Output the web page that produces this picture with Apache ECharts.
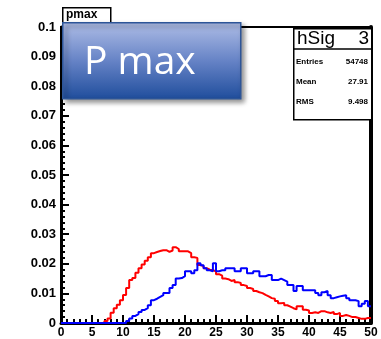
<!DOCTYPE html>
<html>
<head>
<meta charset="utf-8">
<script src="https://cdn.jsdelivr.net/npm/echarts@6/dist/echarts.min.js"></script>
<style>
  html, body { margin: 0; padding: 0; background: #fff; }
  #chart { width: 381px; height: 339px; }
</style>
</head>
<body>
<div id="chart"></div>
<script>
// histogram binning
const xMin = 0, xMax = 50, binWidth = 0.5;
const yMin = 0, yMax = 0.1;

// red histogram (100 bins of 0.5)
const redValues = [
  0,0,0,0,0,0,0,0,0,0, 0,0,0,0,0.0007,0.0015,0.0035,0.005,0.0062,0.0077,
  0.0095,0.0118,0.0145,0.0152,0.017,0.0185,0.0198,0.021,0.0222,0.0236,
  0.024,0.0243,0.0246,0.0246,0.024,0.0245,0.0256,0.025,0.0242,0.0242,
  0.0242,0.0236,0.0222,0.022,0.0196,0.0192,0.0185,0.018,0.0178,0.0175,
  0.0165,0.016,0.015,0.0148,0.0142,0.0145,0.0138,0.0135,0.0128,0.0125,
  0.0118,0.0115,0.0108,0.0104,0.0101,0.0095,0.009,0.0084,0.0082,0.0074,
  0.0067,0.0068,0.006,0.0055,0.005,0.0046,0.0057,0.0057,0.0045,0.0042,
  0.0034,0.0036,0.0034,0.004,0.004,0.0036,0.0034,0.0037,0.003,0.0034,
  0.0024,0.0027,0.0024,0.002,0.002,0.0017,0.0014,0.0014,0.0017,0.0017
];

// blue histogram
const blueValues = [
  0,0,0,0,0,0,0,0,0,0, 0,0,0,0,0,0,0,0,0,0,
  0,0.0007,0.0015,0.0024,0.003,0.0037,0.0044,0.005,0.006,0.0077,
  0.0082,0.0088,0.0094,0.0101,0.0101,0.0118,0.0128,0.015,0.0152,0.0158,
  0.0175,0.0175,0.0168,0.0178,0.0202,0.0195,0.0185,0.0178,0.0175,0.0202,
  0.0175,0.0178,0.0178,0.0185,0.0185,0.0185,0.0175,0.0175,0.0185,0.0185,
  0.0168,0.0168,0.0175,0.0175,0.0158,0.0158,0.0162,0.0162,0.0145,0.0145,
  0.015,0.0145,0.014,0.0128,0.0128,0.0108,0.0125,0.0125,0.0111,0.0111,
  0.0111,0.0111,0.0101,0.0094,0.0104,0.0108,0.0094,0.0084,0.0087,0.009,
  0.0092,0.0094,0.0084,0.0077,0.0077,0.0074,0.0057,0.0065,0.0074,0.0057
];

// stats box
const statsTitle = 'hSig 3';
const statsLabels = ['Entries', 'Mean', 'RMS'];
const statsValues = ['54748', '27.91', '9.498'];

function toSteps(values) {
  const pts = values.map((v, i) => [xMin + i * binWidth, v]);
  pts.push([xMin + values.length * binWidth, values[values.length - 1]]);
  return pts;
}

const myChart = echarts.init(document.getElementById('chart'));

const labelFont = { fontFamily: 'Liberation Sans', fontWeight: 'bold', color: '#000' };

const statsGraphics = [];
statsLabels.forEach((lab, i) => {
  statsGraphics.push({
    type: 'text', left: 296, top: 58 + i * 20, z: 12,
    style: { text: lab, font: 'bold 8px Liberation Sans', fill: '#000' }
  });
  statsGraphics.push({
    type: 'text', right: 13, top: 58 + i * 20, z: 12,
    style: { text: statsValues[i], font: 'bold 8px Liberation Sans', fill: '#000', textAlign: 'right' }
  });
});

myChart.setOption({
  animation: false,
  grid: { left: 61, right: 10, top: 27, bottom: 14, show: true, borderColor: '#000', borderWidth: 2 },
  xAxis: {
    type: 'value', min: xMin, max: xMax, interval: 5,
    axisLine: { show: true, onZero: false, lineStyle: { color: '#000', width: 3 } },
    axisTick: { show: true, inside: true, length: 8, lineStyle: { color: '#000', width: 2 } },
    minorTick: { show: true, splitNumber: 5, length: 4, lineStyle: { color: '#000', width: 2 } },
    axisLabel: Object.assign({ fontSize: 12, margin: 4 }, labelFont),
    splitLine: { show: false }
  },
  yAxis: [{
    type: 'value', min: yMin, max: yMax, interval: 0.01,
    axisLine: { show: true, lineStyle: { color: '#000', width: 3 } },
    axisTick: { show: true, inside: true, length: 8, lineStyle: { color: '#000', width: 2 } },
    minorTick: { show: true, splitNumber: 5, length: 4, lineStyle: { color: '#000', width: 2 } },
    axisLabel: Object.assign({ fontSize: 13, margin: 5 }, labelFont),
    splitLine: { show: false }
  }, {
    type: 'value', min: yMin, max: yMax, position: 'right',
    axisLine: { show: true, lineStyle: { color: '#000', width: 4 } },
    axisTick: { show: false }, axisLabel: { show: false }, splitLine: { show: false }
  }],
  series: [
    {
      type: 'line', step: 'end', data: toSteps(redValues), showSymbol: false,
      lineStyle: { color: '#ff0000', width: 2 }, z: 3
    },
    {
      type: 'line', step: 'end', data: toSteps(blueValues), showSymbol: false,
      lineStyle: { color: '#0000ff', width: 2 }, z: 4
    }
  ],
  graphic: [
    // histogram title box
    {
      type: 'rect', left: 62, top: 7, z: 10,
      shape: { width: 48, height: 19 },
      style: { fill: '#fff', stroke: '#000', lineWidth: 1.5 }
    },
    {
      type: 'text', left: 66, top: 9, z: 11,
      style: { text: 'pmax', font: 'bold 12px Liberation Sans', fill: '#000' }
    },
    // stats box
    {
      type: 'rect', left: 293, top: 28, z: 10,
      shape: { width: 78, height: 91 },
      style: { fill: '#fff', stroke: '#000', lineWidth: 1.5 }
    },
    {
      type: 'line', z: 11,
      shape: { x1: 293, y1: 49, x2: 371, y2: 49 },
      style: { stroke: '#000', lineWidth: 1.5 }
    },
    {
      type: 'text', left: 297, top: 29, z: 12,
      style: { text: 'hSig', font: '19px Liberation Sans', fill: '#000' }
    },
    {
      type: 'text', right: 12, top: 29, z: 12,
      style: { text: '3', font: '19px Liberation Sans', fill: '#000', textAlign: 'right' }
    },
    ...statsGraphics,
    // slide overlay label
    {
      type: 'rect', left: 62, top: 22, z: 20,
      shape: { width: 178, height: 76 },
      style: {
        fill: new echarts.graphic.LinearGradient(0, 0, 0, 1, [
          { offset: 0, color: '#afbde6' },
          { offset: 0.5, color: '#6683c6' },
          { offset: 1, color: '#1f4d9c' }
        ]),
        stroke: '#2d5597', lineWidth: 1.5,
        shadowBlur: 5, shadowOffsetX: 3, shadowOffsetY: 3, shadowColor: 'rgba(0,0,0,0.45)'
      }
    },
    {
      type: 'text', left: 84, top: 43, z: 21,
      style: { text: 'P max', font: '39px Open Sans', fill: '#fff' }
    }
  ]
});
</script>
</body>
</html>
